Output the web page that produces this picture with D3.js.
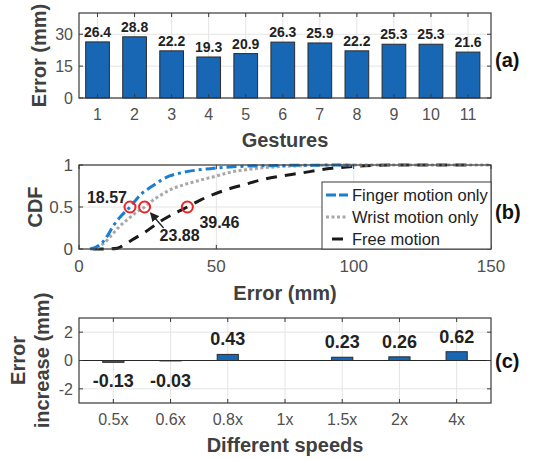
<!DOCTYPE html>
<html>
<head>
<meta charset="utf-8">
<script src="https://cdnjs.cloudflare.com/ajax/libs/d3/7.8.5/d3.min.js"></script>
<style>
  body { margin: 0; background: #fff; }
  svg { font-family: "Liberation Sans", Arial, sans-serif; }
</style>
</head>
<body>
<script>
// ---- data ----
const gestures = ["1","2","3","4","5","6","7","8","9","10","11"];
const gestureError = [26.4, 28.8, 22.2, 19.3, 20.9, 26.3, 25.9, 22.2, 25.3, 25.3, 21.6];

// CDF curves: [error mm, cdf]
const fingerCdf = [[4,0],[6,0.02],[8,0.06],[10,0.14],[12.6,0.28],[15,0.38],[18.57,0.5],[22.8,0.66],
  [26.3,0.74],[30,0.82],[33,0.87],[37.7,0.91],[43,0.94],[49,0.96],[60,0.985],[75,0.995],[100,1]];
const wristCdf = [[4.6,0],[7,0.02],[9.1,0.07],[12,0.17],[14.8,0.27],[18,0.36],[21,0.44],[23.88,0.5],
  [26.5,0.57],[29.7,0.64],[33.5,0.71],[37.7,0.76],[43,0.81],[49,0.86],[56,0.92],[65,0.96],[80,0.99],[100,1],[150,1]];
const freeCdf = [[5,0],[10,0],[14,0.01],[17,0.06],[19.4,0.11],[24,0.2],[29.7,0.33],[34.5,0.42],[39.46,0.5],
  [44,0.58],[49,0.65],[55,0.72],[60.5,0.77],[66,0.82],[72,0.86],[80,0.9],[92,0.96],[104,0.99],[117,1],[142,1]];
const medians = [18.57, 23.88, 39.46];
const legendNames = ["Finger motion only", "Wrist motion only", "Free motion"];

const speeds = ["0.5x","0.6x","0.8x","1x","1.5x","2x","4x"];
const speedIncrease = [-0.13, -0.03, 0.43, 0, 0.23, 0.26, 0.62];

// ---- layout ----
const W = 553, H = 460;
const left = 79, right = 491;
const axisCol = "#3a3a3a", tickCol = "#505050", labelCol = "#404040", gridCol = "#e4e4e4";

const svg = d3.select("body").append("svg").attr("width", W).attr("height", H);

function frame(g, x, y, xTicks, yTicks, xFmt, yFmt, tickSize) {
  const [x0, x1] = x.range(), [y0, y1] = y.range();
  // grid
  g.selectAll(".gx").data(xTicks).enter().append("line")
    .attr("x1", d => x(d)).attr("x2", d => x(d)).attr("y1", y0).attr("y2", y1)
    .attr("stroke", gridCol).attr("stroke-width", 1);
  g.selectAll(".gy").data(yTicks).enter().append("line")
    .attr("y1", d => y(d)).attr("y2", d => y(d)).attr("x1", x0).attr("x2", x1)
    .attr("stroke", gridCol).attr("stroke-width", 1);
  // tick labels
  g.selectAll(".tx").data(xTicks).enter().append("text")
    .attr("x", d => x(d)).attr("y", y0 + tickSize + 6)
    .attr("text-anchor", "middle").attr("font-size", tickSize).attr("fill", tickCol)
    .text(xFmt);
  g.selectAll(".ty").data(yTicks).enter().append("text")
    .attr("x", x0 - 6).attr("y", d => y(d)).attr("dy", "0.36em")
    .attr("text-anchor", "end").attr("font-size", tickSize).attr("fill", tickCol)
    .text(yFmt);
}

function box(g, x, y, xTicks, yTicks) {
  const [x0, x1] = x.range(), [y0, y1] = y.range();
  const tk = 4;
  g.selectAll(".kx").data(xTicks).enter().append("path")
    .attr("d", d => `M${x(d)},${y0}v${-tk}M${x(d)},${y1}v${tk}`)
    .attr("stroke", axisCol).attr("stroke-width", 1);
  g.selectAll(".ky").data(yTicks).enter().append("path")
    .attr("d", d => `M${x0},${y(d)}h${tk}M${x1},${y(d)}h${-tk}`)
    .attr("stroke", axisCol).attr("stroke-width", 1);
  g.append("rect").attr("x", x0).attr("y", y1).attr("width", x1 - x0).attr("height", y0 - y1)
    .attr("fill", "none").attr("stroke", axisCol).attr("stroke-width", 1.2);
}

function sideLabel(txt, y) {
  svg.append("text").attr("x", 495).attr("y", y).attr("dy", "0.36em")
    .attr("font-size", 20).attr("font-weight", "bold").attr("fill", "#111").text(txt);
}

// ---- (a) gestures ----
{
  const g = svg.append("g");
  const x = d3.scaleLinear().domain([0.5, 11.62]).range([left, right]);
  const y = d3.scaleLinear().domain([0, 40]).range([98, 13]);
  const idx = gestures.map((d, i) => i + 1);
  frame(g, x, y, idx, [0, 15, 30], i => gestures[i - 1], d => d, 16);
  const bw = (x(2) - x(1)) * 0.64;
  g.selectAll(".bar").data(gestureError).enter().append("rect")
    .attr("x", (d, i) => x(i + 1) - bw / 2).attr("width", bw)
    .attr("y", d => y(d)).attr("height", d => y(0) - y(d))
    .attr("fill", "#1767b5").attr("stroke", "#2b2b2b").attr("stroke-width", 1);
  g.selectAll(".val").data(gestureError).enter().append("text")
    .attr("x", (d, i) => x(i + 1)).attr("y", d => y(d) - 5)
    .attr("text-anchor", "middle").attr("font-size", 14).attr("font-weight", "bold")
    .attr("fill", "#222").text(d => d.toFixed(1));
  box(g, x, y, idx, [0, 15, 30]);
  g.append("text").attr("transform", `translate(46,${(13 + 98) / 2}) rotate(-90)`)
    .attr("text-anchor", "middle").attr("font-size", 20).attr("font-weight", "bold")
    .attr("fill", labelCol).text("Error (mm)");
  g.append("text").attr("x", (left + right) / 2).attr("y", 147)
    .attr("text-anchor", "middle").attr("font-size", 20).attr("font-weight", "bold")
    .attr("fill", labelCol).text("Gestures");
  sideLabel("(a)", 60);
}

// ---- (b) CDF ----
{
  const g = svg.append("g");
  const x = d3.scaleLinear().domain([0, 150]).range([left, right]);
  const y = d3.scaleLinear().domain([0, 1]).range([249, 165]);
  frame(g, x, y, [0, 50, 100, 150], [0, 0.5, 1], d => d, d => d, 17);
  const line = d3.line().x(d => x(d[0])).y(d => y(d[1])).curve(d3.curveMonotoneX);
  const styles = [
    { data: fingerCdf, color: "#1a7fd0", dash: "10,4,3,4", legDash: "10,3" },
    { data: wristCdf, color: "#a8a8a8", dash: "3,2.5", legDash: "3,2.5" },
    { data: freeCdf, color: "#1a1a1a", dash: "11,8", legDash: "0,6,11,8" }
  ];
  // draw free first, then wrist, then finger so blue sits on top
  [2, 1, 0].forEach(i => {
    g.append("path").datum(styles[i].data).attr("d", line)
      .attr("fill", "none").attr("stroke", styles[i].color)
      .attr("stroke-width", 3).attr("stroke-dasharray", styles[i].dash);
  });
  g.selectAll(".med").data(medians).enter().append("circle")
    .attr("cx", d => x(d)).attr("cy", y(0.5)).attr("r", 5.5)
    .attr("fill", "none").attr("stroke", "#e8262a").attr("stroke-width", 2);
  const cy = y(0.5);
  const fs = 16;
  g.append("text").attr("x", x(medians[0]) - 3).attr("y", cy - 4).attr("text-anchor", "end")
    .attr("font-size", fs).attr("font-weight", "bold").attr("fill", "#222").text(medians[0].toFixed(2));
  g.append("text").attr("x", x(medians[1]) + 15).attr("y", cy + 34)
    .attr("font-size", fs).attr("font-weight", "bold").attr("fill", "#222").text(medians[1].toFixed(2));
  g.append("text").attr("x", x(medians[2]) + 12).attr("y", cy + 21)
    .attr("font-size", fs).attr("font-weight", "bold").attr("fill", "#222").text(medians[2].toFixed(2));
  // arrow to 23.88
  const ax = x(medians[1]);
  svg.append("defs").append("marker").attr("id", "ah").attr("viewBox", "0 0 10 10")
    .attr("refX", 9).attr("refY", 5).attr("markerWidth", 7).attr("markerHeight", 7)
    .attr("orient", "auto").append("path").attr("d", "M0,0L10,5L0,10z").attr("fill", "#222");
  g.append("line").attr("x1", ax + 19).attr("y1", cy + 21).attr("x2", ax + 6).attr("y2", cy + 6)
    .attr("stroke", "#222").attr("stroke-width", 1.3).attr("marker-end", "url(#ah)");
  box(g, x, y, [0, 50, 100, 150], [0, 0.5, 1]);
  // legend
  const lg = g.append("g");
  lg.append("rect").attr("x", 322).attr("y", 182).attr("width", right - 322).attr("height", 249 - 182)
    .attr("fill", "#fff").attr("stroke", axisCol).attr("stroke-width", 1);
  styles.forEach((s, i) => {
    const ly = 195 + i * 22;
    lg.append("line").attr("x1", 326).attr("x2", 348).attr("y1", ly).attr("y2", ly)
      .attr("stroke", s.color).attr("stroke-width", 3).attr("stroke-dasharray", s.legDash);
    lg.append("text").attr("x", 352).attr("y", ly).attr("dy", "0.36em")
      .attr("font-size", 16.5).attr("fill", "#222").text(legendNames[i]);
  });
  g.append("text").attr("transform", `translate(42,${(165 + 249) / 2}) rotate(-90)`)
    .attr("text-anchor", "middle").attr("font-size", 20).attr("font-weight", "bold")
    .attr("fill", labelCol).text("CDF");
  g.append("text").attr("x", (left + right) / 2).attr("y", 300)
    .attr("text-anchor", "middle").attr("font-size", 20).attr("font-weight", "bold")
    .attr("fill", labelCol).text("Error (mm)");
  sideLabel("(b)", 212);
}

// ---- (c) speeds ----
{
  const g = svg.append("g");
  const x = d3.scaleLinear().domain([0.4, 7.6]).range([left, right]);
  const y = d3.scaleLinear().domain([-3, 3]).range([403, 318]);
  const idx = speeds.map((d, i) => i + 1);
  frame(g, x, y, idx, [-2, 0, 2], i => speeds[i - 1], d => d, 16);
  g.append("line").attr("x1", left).attr("x2", right).attr("y1", y(0)).attr("y2", y(0))
    .attr("stroke", "#262626").attr("stroke-width", 1.2);
  const bw = (x(2) - x(1)) * 0.37;
  g.selectAll(".bar").data(speedIncrease).enter().append("rect")
    .attr("x", (d, i) => x(i + 1) - bw / 2).attr("width", bw)
    .attr("y", d => y(Math.max(0, d))).attr("height", d => Math.abs(y(0) - y(d)))
    .attr("fill", "#1767b5").attr("stroke", "#2b2b2b").attr("stroke-width", 1);
  g.selectAll(".val").data(speedIncrease.map((v, i) => ({ v, i }))).enter()
    .filter(d => d.v !== 0).append("text")
    .attr("x", d => x(d.i + 1))
    .attr("y", d => d.v > 0 ? y(d.v) - 9 : y(0) + 26)
    .attr("text-anchor", "middle").attr("font-size", 18).attr("font-weight", "bold")
    .attr("fill", "#222").text(d => d.v.toFixed(2));
  box(g, x, y, idx, [-2, 0, 2]);
  const ly = (318 + 403) / 2;
  g.append("text").attr("transform", `translate(25,${ly}) rotate(-90)`)
    .attr("text-anchor", "middle").attr("font-size", 20).attr("font-weight", "bold")
    .attr("fill", labelCol).text("Error");
  g.append("text").attr("transform", `translate(49,${ly}) rotate(-90)`)
    .attr("text-anchor", "middle").attr("font-size", 20).attr("font-weight", "bold")
    .attr("fill", labelCol).text("increase (mm)");
  g.append("text").attr("x", (left + right) / 2).attr("y", 452)
    .attr("text-anchor", "middle").attr("font-size", 20).attr("font-weight", "bold")
    .attr("fill", labelCol).text("Different speeds");
  sideLabel("(c)", 361);
}
</script>
</body>
</html>
